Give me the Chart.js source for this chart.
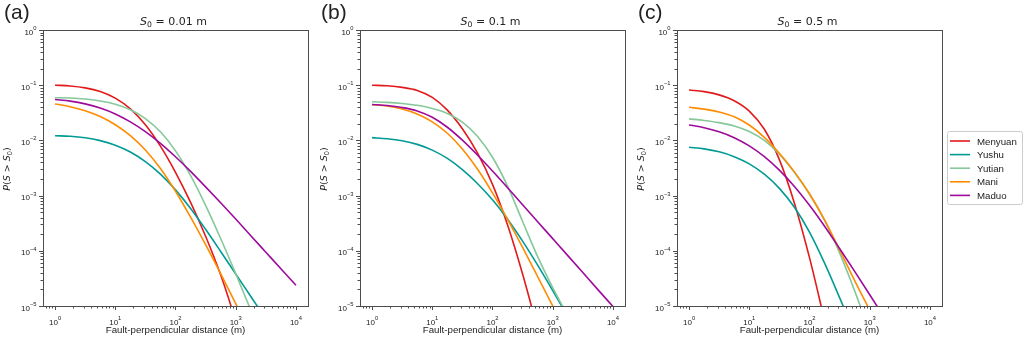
<!DOCTYPE html>
<html>
<head>
<meta charset="utf-8">
<script src="https://cdn.jsdelivr.net/npm/chart.js@4.4.0/dist/chart.umd.min.js"></script>
<style>
  body { margin: 0; background: #fff; }
  .panel { position: absolute; top: 0; height: 345px; }
</style>
</head>
<body>
<div class="panel" style="left:0;width:317px"><canvas id="chart-a"></canvas></div>
<div class="panel" style="left:317px;width:317px"><canvas id="chart-b"></canvas></div>
<div class="panel" style="left:634px;width:390px"><canvas id="chart-c"></canvas></div>
<script>
// distances (m) the curves were read at
var dist = [1, 1.78, 3.16, 5.62, 10, 17.8, 31.6, 56.2, 100, 178, 316, 562, 1000, 1780, 3160, 5620, 10000];

var sites = ['Menyuan', 'Yushu', 'Yutian', 'Mani', 'Maduo'];
var s0Labels = ['0.01', '0.1', '0.5'];
var panelLetters = ['(a)', '(b)', '(c)'];
var xTickExp = [0, 1, 2, 3, 4];
var yTickExp = [-5, -4, -3, -2, -1, 0];

// (a) S0 = 0.01 m
var menyuanA = [0.1, 0.097, 0.0895, 0.0766, 0.0582, 0.0372, 0.0192, 0.00787, 0.00264, 0.000753, 0.000184, 3.67e-5, 5.5e-6];
var yushuA = [0.01216, 0.01191, 0.01119, 0.00991, 0.00817, 0.00617, 0.00414, 0.00245, 0.00127, 0.000586, 0.000245, 9.73e-5, 3.8e-5, 1.49e-5, 5.82e-6];
var yutianA = [0.0594, 0.0586, 0.0561, 0.0519, 0.0453, 0.036, 0.0249, 0.0143, 0.00647, 0.0023, 0.000667, 0.000167, 3.85e-5, 8.4e-6];
var maniA = [0.0457, 0.0408, 0.0344, 0.027, 0.0192, 0.0122, 0.0067, 0.0031, 0.0012, 0.000407, 0.000129, 3.85e-5, 1.1e-5, 3.05e-6];
var maduoA = [0.055, 0.0514, 0.0459, 0.0386, 0.0302, 0.0217, 0.01445, 0.00885, 0.00505, 0.00274, 0.001436, 0.000741, 0.000376, 0.000188, 9.44e-5, 4.73e-5, 2.37e-5];

// (b) S0 = 0.1 m
var menyuanB = [0.1, 0.0975, 0.0914, 0.0804, 0.0603, 0.0354, 0.01626, 0.00594, 0.0016, 0.000293, 3.8e-5, 3.8e-6];
var yushuB = [0.01122, 0.01074, 0.00986, 0.00847, 0.00667, 0.00472, 0.00296, 0.00166, 0.000838, 0.000374, 0.00015, 5.51e-5, 1.91e-5, 6.4e-6];
var yutianB = [0.0501, 0.0489, 0.0467, 0.0432, 0.0379, 0.0308, 0.0215, 0.0119, 0.00495, 0.00148, 0.00034, 7.83e-5, 2.15e-5, 6.6e-6];
var maniB = [0.0447, 0.0419, 0.0371, 0.0301, 0.0217, 0.01346, 0.00698, 0.00303, 0.00112, 0.000371, 0.000115, 3.42e-5, 1.0e-5, 2.9e-6];
var maduoB = [0.0447, 0.0428, 0.0394, 0.0342, 0.0262, 0.0173, 0.0101, 0.00544, 0.00279, 0.00139, 0.000684, 0.000337, 0.000166, 8.17e-5, 4.03e-5, 1.98e-5, 9.8e-6];

// (c) S0 = 0.5 m
var menyuanC = [0.0818, 0.0764, 0.0668, 0.0524, 0.034, 0.0159, 0.00448, 0.00073, 7.52e-5, 5.47e-6];
var yushuC = [0.0075, 0.00702, 0.00622, 0.00508, 0.00376, 0.00244, 0.00135, 0.000615, 0.000218, 5.97e-5, 1.42e-5, 3.2e-6];
var yutianC = [0.0245, 0.023, 0.021, 0.01828, 0.01452, 0.01, 0.00562, 0.00262, 0.00106, 0.000355, 9.18e-5, 1.88e-5, 3.35e-6];
var maniC = [0.0398, 0.0369, 0.0328, 0.0269, 0.019, 0.01132, 0.00583, 0.00269, 0.00108, 0.000363, 0.000104, 2.88e-5, 8.4e-6];
var maduoC = [0.01905, 0.017, 0.01429, 0.0112, 0.00796, 0.00508, 0.00289, 0.001466, 0.000668, 0.000279, 0.00011, 4.23e-5, 1.6e-5, 6.0e-6];

var colors = ['#e31a1c', '#009b95', '#86c89a', '#ff8c00', '#9e0b9b'];

var panels = [
  [menyuanA, yushuA, yutianA, maniA, maduoA],
  [menyuanB, yushuB, yutianB, maniB, maduoB],
  [menyuanC, yushuC, yutianC, maniC, maduoC]
];

var SANS = '"Liberation Sans", Arial, sans-serif';
var MATH = '"DejaVu Sans", sans-serif';
var axisColor = '#4d4d4d';

// draw a run of text pieces (font, offset) as one label
function drawRun(c, parts, x, y, align) {
  var w = 0;
  parts.forEach(function(p) { c.font = p.f; p.w = c.measureText(p.t).width; w += p.w; });
  var cx = align === 'center' ? x - w / 2 : (align === 'right' ? x - w : x);
  c.textAlign = 'left';
  c.textBaseline = 'alphabetic';
  parts.forEach(function(p) { c.font = p.f; c.fillText(p.t, cx, y + (p.dy || 0)); cx += p.w; });
}

function powParts(e) {
  return [
    { t: '10', f: '8px ' + SANS },
    { t: e < 0 ? '\u2212' + (-e) : String(e), f: '5.8px ' + SANS, dy: -4.6 }
  ];
}

var decor = {
  id: 'decor',
  afterDraw: function(chart, args, opts) {
    var c = chart.ctx, a = chart.chartArea, sx = chart.scales.x, sy = chart.scales.y;
    var i = opts.panel;
    c.save();
    c.strokeStyle = axisColor;
    c.fillStyle = '#222';
    c.lineWidth = 1;

    // ticks, major and minor
    c.beginPath();
    for (var e = -1; e <= 4; e++) {
      for (var k = 1; k <= 9; k++) {
        var v = k * Math.pow(10, e);
        if (v < sx.min || v > sx.max) continue;
        var px = Math.round(sx.getPixelForValue(v)) + 0.5;
        c.moveTo(px, a.bottom);
        c.lineTo(px, a.bottom + (k === 1 ? 4 : 2.5));
      }
    }
    for (var e2 = -5; e2 <= 0; e2++) {
      for (var k2 = 1; k2 <= 9; k2++) {
        var v2 = k2 * Math.pow(10, e2);
        if (v2 < sy.min || v2 > sy.max * 1.0001) continue;
        var py = Math.round(sy.getPixelForValue(v2)) + 0.5;
        c.moveTo(a.left, py);
        c.lineTo(a.left - (k2 === 1 ? 4 : 2.5), py);
      }
    }
    c.stroke();

    // frame
    c.strokeRect(Math.round(a.left) + 0.5, Math.round(a.top) + 0.5, Math.round(a.right - a.left), Math.round(a.bottom - a.top));

    // tick labels
    xTickExp.forEach(function(ex) {
      drawRun(c, powParts(ex), sx.getPixelForValue(Math.pow(10, ex)), a.bottom + 18.5, 'center');
    });
    yTickExp.forEach(function(ex) {
      drawRun(c, powParts(ex), a.left - 6.5, sy.getPixelForValue(Math.pow(10, ex)) + 4.5, 'right');
    });

    var mid = (a.left + a.right) / 2;
    // x title
    drawRun(c, [{ t: 'Fault-perpendicular distance (m)', f: '9.7px ' + SANS }], mid, 333, 'center');

    // y title
    c.save();
    c.translate(6.5, (a.top + a.bottom) / 2 + 1);
    c.rotate(-Math.PI / 2);
    drawRun(c, [
      { t: 'P', f: 'italic 9.5px ' + MATH },
      { t: '(', f: '9.5px ' + MATH },
      { t: 'S', f: 'italic 9.5px ' + MATH },
      { t: ' > ', f: '9.5px ' + MATH },
      { t: 'S', f: 'italic 9.5px ' + MATH },
      { t: '0', f: '6.7px ' + MATH, dy: 1.9 },
      { t: ')', f: '9.5px ' + MATH }
    ], 0, 3.5, 'center');
    c.restore();

    // panel title
    drawRun(c, [
      { t: 'S', f: 'italic 11px ' + MATH },
      { t: '0', f: '7.7px ' + MATH, dy: 2.2 },
      { t: ' = ' + s0Labels[i] + ' m', f: '11px ' + MATH }
    ], mid - 2, 25, 'center');

    // panel letter
    drawRun(c, [{ t: panelLetters[i], f: '21px ' + SANS }], 4, 19, 'left');

    // legend on the last panel
    if (opts.legend) {
      var lx = a.right + 5, ly = 131, lw = 75, lh = 73;
      c.strokeStyle = '#cccccc';
      c.fillStyle = '#ffffff';
      c.beginPath();
      c.roundRect(lx + 0.5, ly + 0.5, lw, lh, 2);
      c.fill();
      c.stroke();
      sites.forEach(function(s, j) {
        var yy = ly + 10 + j * 13.6;
        c.strokeStyle = colors[j];
        c.lineWidth = 1.6;
        c.beginPath();
        c.moveTo(lx + 3, yy);
        c.lineTo(lx + 23, yy);
        c.stroke();
        c.fillStyle = '#222';
        drawRun(c, [{ t: s, f: '9.7px ' + SANS }], lx + 30, yy + 3.5, 'left');
      });
    }
    c.restore();
  }
};

function makePanel(canvasId, idx, width) {
  var series = panels[idx];
  return new Chart(document.getElementById(canvasId), {
    type: 'line',
    data: {
      datasets: sites.map(function(site, j) {
        return {
          label: site,
          data: series[j].map(function(v, n) { return { x: dist[n], y: v }; }),
          borderColor: colors[j],
          borderWidth: 1.6,
          pointRadius: 0,
          fill: false,
          cubicInterpolationMode: 'monotone',
          order: sites.length - j // later sites drawn on top
        };
      })
    },
    options: {
      responsive: true,
      maintainAspectRatio: false,
      animation: false,
      layout: { padding: { left: 43, right: width - 308, top: 30, bottom: 39 } },
      plugins: {
        legend: { display: false },
        tooltip: { enabled: false },
        decor: { panel: idx, legend: idx === 2 }
      },
      scales: {
        x: { type: 'logarithmic', display: false, bounds: 'data', min: 0.631, max: 15849 },
        y: { type: 'logarithmic', display: false, bounds: 'data', min: 1e-5, max: 1 }
      }
    },
    plugins: [decor]
  });
}

makePanel('chart-a', 0, 317);
makePanel('chart-b', 1, 317);
makePanel('chart-c', 2, 390);
</script>
</body>
</html>
